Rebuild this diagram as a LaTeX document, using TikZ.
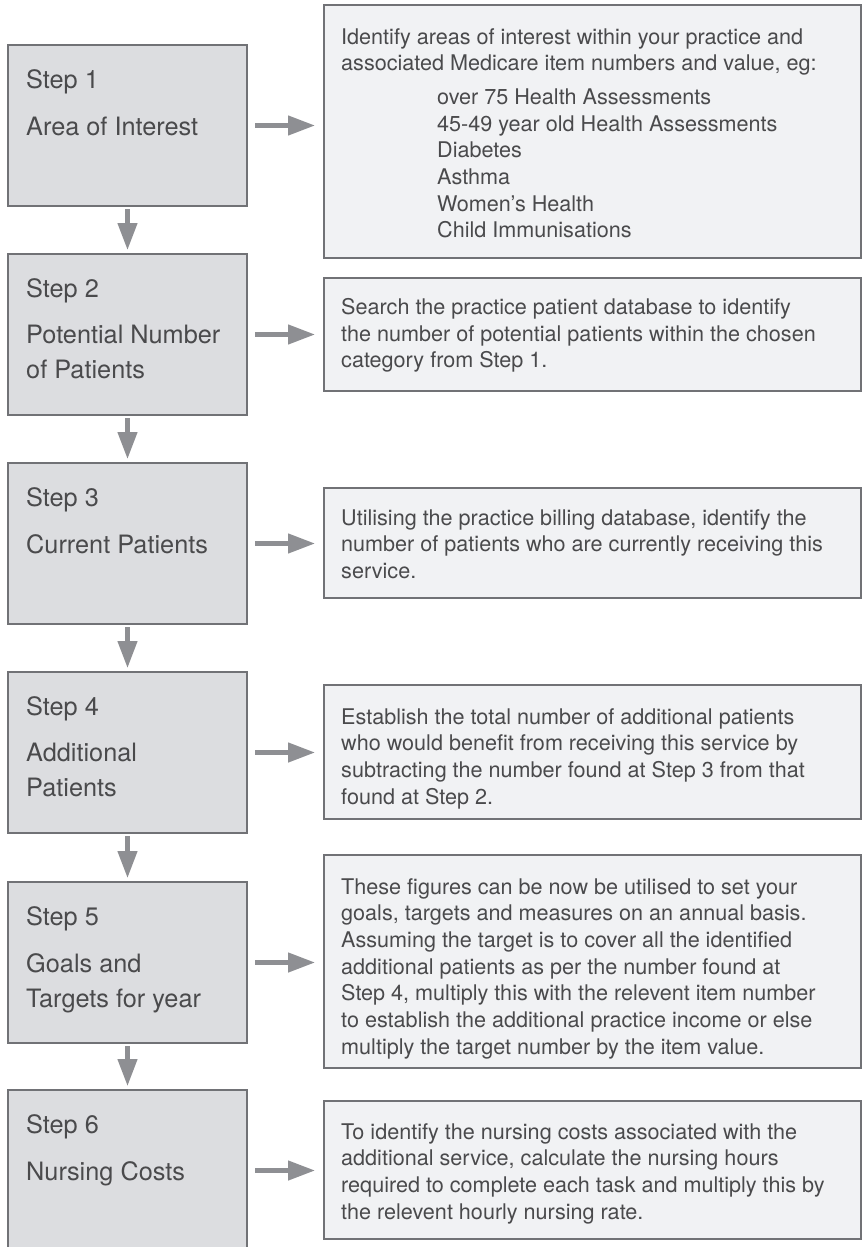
\documentclass[tikz,border=0pt]{standalone}
\usepackage{fontspec}
\setmainfont{TeX Gyre Heros}
\usetikzlibrary{arrows.meta}
\definecolor{bordergray}{HTML}{717276}
\definecolor{stepfill}{HTML}{DCDDE0}
\definecolor{infofill}{HTML}{F1F2F4}
\definecolor{txtgray}{HTML}{4A4A4C}
\definecolor{arrgray}{HTML}{8E8F93}
\begin{document}
\begin{tikzpicture}[x=1pt,y=-1pt,
  stepbox/.style={draw=bordergray,fill=stepfill,line width=2.6pt,rectangle,outer sep=0pt,inner sep=0pt,anchor=north west,minimum width=239pt,minimum height=161pt},
  infobox/.style={draw=bordergray,fill=infofill,line width=2.6pt,rectangle,outer sep=0pt,inner sep=0pt,anchor=north west,minimum width=537pt},
  steplbl/.style={anchor=north west,inner sep=0pt,text=txtgray,align=left,font=\fontsize{25.3}{35}\selectfont},
  infotxt/.style={anchor=north west,inner sep=0pt,text=txtgray,align=left,font=\fontsize{21.6}{26.7}\selectfont},
  flowarr/.style={draw=arrgray,line width=4.5pt,-{Triangle[length=27pt,width=19pt]}},
]
\useasboundingbox (0,0) rectangle (866,1247);
\clip (0,0) rectangle (866,1247);
\fill[white] (0,0) rectangle (866,1247);

% step boxes
\node[stepbox] (s1) at (8,45) {};
\node[stepbox] (s2) at (8,254) {};
\node[stepbox] (s3) at (8,463) {};
\node[stepbox] (s4) at (8,672) {};
\node[stepbox] (s5) at (8,882) {};
\node[stepbox] (s6) at (8,1090) {};

% info boxes
\node[infobox,minimum height=253pt] (r1) at (324,5) {};
\node[infobox,minimum height=113pt] (r2) at (324,278) {};
\node[infobox,minimum height=110pt] (r3) at (324,488) {};
\node[infobox,minimum height=134pt] (r4) at (324,685) {};
\node[infobox,minimum height=213pt] (r5) at (324,855) {};
\node[infobox,minimum height=138pt] (r6) at (324,1101) {};

% step labels
\node[steplbl] (l1a) at (26,69) {Step 1};
\node[steplbl] (l1b) at (26,117) {Area of Interest};
\node[steplbl] (l2a) at (26,278) {Step 2};
\node[steplbl] (l2b) at (26,325) {Potential Number\\of Patients};
\node[steplbl] (l3a) at (26,487) {Step 3};
\node[steplbl] (l3b) at (26,534) {Current Patients};
\node[steplbl] (l4a) at (26,696) {Step 4};
\node[steplbl] (l4b) at (26,743) {Additional\\Patients};
\node[steplbl] (l5a) at (26,906) {Step 5};
\node[steplbl] (l5b) at (26,953) {Goals and\\Targets for year};
\node[steplbl] (l6a) at (26,1114) {Step 6};
\node[steplbl] (l6b) at (26,1161) {Nursing Costs};

% info texts
\node[infotxt] (t1) at (341,28) {Identify areas of interest within your practice and\\associated Medicare item numbers and value, eg:};
\node[infotxt] (t1l) at (437,88.5) {over 75 Health Assessments\\45-49 year old Health Assessments\\Diabetes\\Asthma\\Women’s Health\\Child Immunisations};
\node[infotxt] (t2) at (341,298) {Search the practice patient database to identify\\the number of potential patients within the chosen\\category from Step 1.};
\node[infotxt] (t3) at (341,509) {Utilising the practice billing database, identify the\\number of patients who are currently receiving this\\service.};
\node[infotxt] (t4) at (341,708) {Establish the total number of additional patients\\who would benefit from receiving this service by\\subtracting the number found at Step 3 from that\\found at Step 2.};
\node[infotxt] (t5) at (341,878) {These figures can be now be utilised to set your\\goals, targets and measures on an annual basis.\\Assuming the target is to cover all the identified\\additional patients as per the number found at\\Step 4, multiply this with the relevent item number\\to establish the additional practice income or else\\multiply the target number by the item value.};
\node[infotxt] (t6) at (341,1123) {To identify the nursing costs associated with the\\additional service, calculate the nursing hours\\required to complete each task and multiply this by\\the relevent hourly nursing rate.};

% horizontal arrows
\foreach \i in {1,...,6}{
  \draw[flowarr,shorten <=8pt,shorten >=9pt] (s\i.east) -- (s\i.east -| r\i.west);
}
% vertical arrows
\foreach \i/\j in {1/2,2/3,3/4,4/5,5/6}{
  \draw[flowarr,shorten <=3pt,shorten >=4pt] (s\i.south) -- (s\j.north);
}
\end{tikzpicture}
\end{document}
